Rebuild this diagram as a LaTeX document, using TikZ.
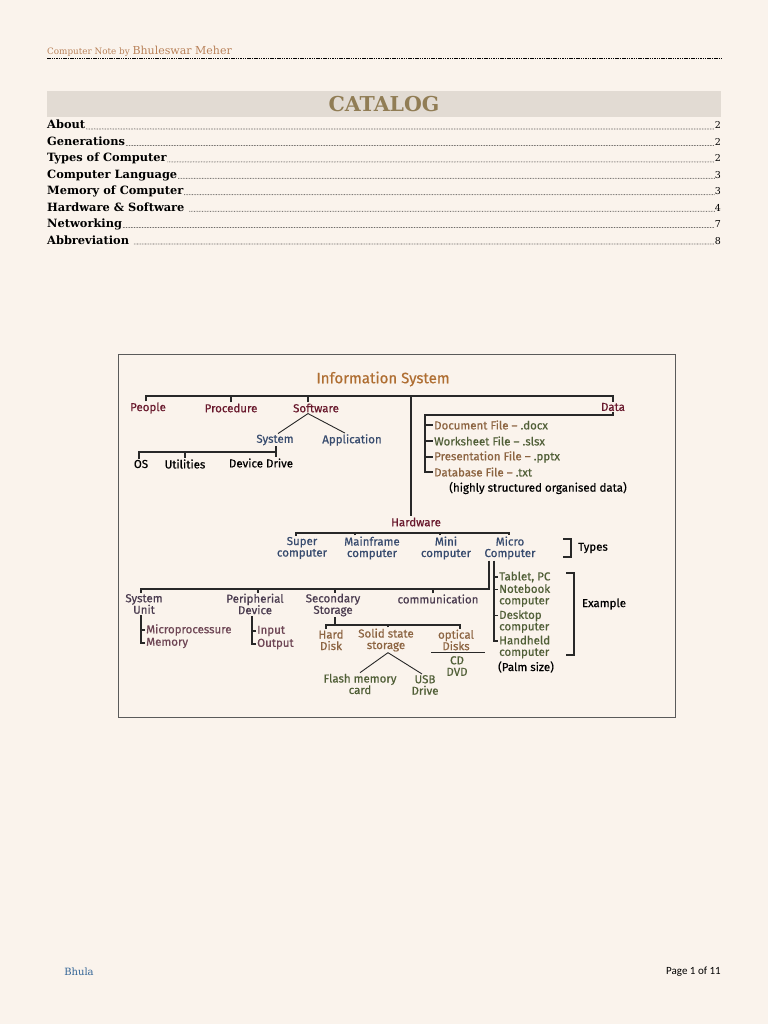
\documentclass[tikz,border=0pt]{standalone}
\usepackage{fontspec}
\setmainfont{DejaVu Serif}
\newfontfamily\handfont[FakeBold=0.6]{Fira Sans}
\newfontfamily\pagefont{Carlito}
\usetikzlibrary{positioning}
\definecolor{pagebg}{RGB}{250,243,236}
\definecolor{hdrgray}{RGB}{226,219,211}
\definecolor{catbrown}{RGB}{145,125,85}
\definecolor{notebrown}{RGB}{185,130,90}
\definecolor{footblue}{RGB}{50,100,150}
\definecolor{inkline}{RGB}{40,40,40}
\definecolor{frameline}{RGB}{90,90,90}
\definecolor{inkred}{RGB}{105,25,45}
\definecolor{inkorange}{RGB}{175,110,50}
\definecolor{inkblue}{RGB}{55,75,110}
\definecolor{inkbrown}{RGB}{140,100,65}
\definecolor{inkolive}{RGB}{80,95,55}
\definecolor{inkplum}{RGB}{75,60,80}
\definecolor{inkmauve}{RGB}{110,70,85}
\tikzset{
  hand/.style={font=\handfont\fontsize{11.5}{11.5}\selectfont,inner sep=1pt,align=center},
  redlbl/.style={hand,text=inkred},
  bluelbl/.style={hand,text=inkblue},
  brownlbl/.style={hand,text=inkbrown},
  olivelbl/.style={hand,text=inkolive},
  plumlbl/.style={hand,text=inkplum},
  mauvelbl/.style={hand,text=inkmauve,align=left},
  blacklbl/.style={hand,text=black},
  treeline/.style={draw=inkline,line width=1.1pt},
  tocitem/.style={font=\bfseries\fontsize{11.4}{13}\selectfont,inner sep=0pt,anchor=base west},
  tocnum/.style={font=\fontsize{9.5}{11}\selectfont,inner sep=0pt,anchor=base east},
  tocdots/.style={line width=0.75pt,dash pattern=on 0pt off 1.6pt,line cap=round}
}

\begin{document}
\begin{tikzpicture}[x=1pt,y=-1pt]
  % Page
  \fill[pagebg] (0,0) rectangle (768,1024);
  \useasboundingbox (0,0) rectangle (768,1024);

  % Running head
  \node[anchor=base west,inner sep=0pt,text=notebrown] (head) at (47,54.5)
    {\fontsize{8.8}{10}\selectfont Computer Note by \fontsize{11}{12}\selectfont Bhuleswar Meher};
  \draw[dash pattern=on 1.5pt off 0.8pt, line width=0.6pt] (47,58) -- (721,58);

  % Catalog banner
  \fill[hdrgray] (47,91) rectangle (721,117);
  \node[font=\bfseries\fontsize{20.5}{23}\selectfont, text=catbrown] (catalog) at (384,104.5) {CATALOG};

  % Table of contents
  \node[tocitem] (tabout) at (47,129) {About};
  \node[tocnum] (pabout) at (721,129) {2};
  \draw[tocdots] ([xshift=1]tabout.base east) -- (pabout.base west);
  \node[tocitem] (tgen) at (47,145.4) {Generations};
  \node[tocnum] (pgen) at (721,145.4) {2};
  \draw[tocdots] ([xshift=1]tgen.base east) -- (pgen.base west);
  \node[tocitem] (ttypes) at (47,161.9) {Types of Computer};
  \node[tocnum] (ptypes) at (721,161.9) {2};
  \draw[tocdots] ([xshift=1]ttypes.base east) -- (ptypes.base west);
  \node[tocitem] (tlang) at (47,178.3) {Computer Language};
  \node[tocnum] (plang) at (721,178.3) {3};
  \draw[tocdots] ([xshift=1]tlang.base east) -- (plang.base west);
  \node[tocitem] (tmem) at (47,194.7) {Memory of Computer};
  \node[tocnum] (pmem) at (721,194.7) {3};
  \draw[tocdots] ([xshift=1]tmem.base east) -- (pmem.base west);
  \node[tocitem] (thw) at (47,211.2) {Hardware \& Software};
  \node[tocnum] (phw) at (721,211.2) {4};
  \draw[tocdots] ([xshift=5]thw.base east) -- (phw.base west);
  \node[tocitem] (tnet) at (47,227.6) {Networking};
  \node[tocnum] (pnet) at (721,227.6) {7};
  \draw[tocdots] ([xshift=1]tnet.base east) -- (pnet.base west);
  \node[tocitem] (tabbr) at (47,244) {Abbreviation};
  \node[tocnum] (pabbr) at (721,244) {8};
  \draw[tocdots] ([xshift=5]tabbr.base east) -- (pabbr.base west);

  % Diagram frame
  \draw[frameline, line width=0.8pt] (118,354) rectangle (675,717);

  % Information System and its four parts
  \node[hand, text=inkorange, font=\handfont\fontsize{15}{17}\selectfont] (infosys) at (383,379) {Information System};
  \node[redlbl] (people) at (148,408) {People};
  \node[redlbl] (procedure) at (231,408) {Procedure};
  \node[redlbl] (software) at (316,408) {Software};
  \node[redlbl] (data) at (613,407) {Data};
  \node[redlbl] (hardware) at (416,522) {Hardware};
  \coordinate (topbus) at (0,396);
  \draw[treeline] ([xshift=-2]people.north) |- (topbus -| data.north) -- (data.north);
  \draw[treeline] (procedure.north) -- (procedure.north |- topbus);
  \draw[treeline] ([xshift=-8]software.north) -- ([xshift=-8]software.north |- topbus);
  \draw[treeline] ([xshift=-5]hardware.north |- topbus) -- ([xshift=-5]hardware.north);

  % Software
  \node[bluelbl] (system) at (275,440) {System};
  \node[bluelbl] (application) at (352,440) {Application};
  \draw[treeline, line width=0.9pt] ([xshift=-8]software.south) -- ([xshift=3]system.north);
  \draw[treeline, line width=0.9pt] ([xshift=-8]software.south) -- ([xshift=-7]application.north);
  \node[blacklbl] (os) at (141,464) {OS};
  \node[blacklbl] (utilities) at (185,464) {Utilities};
  \node[blacklbl] (devdrive) at (261,463) {Device Drive};
  \coordinate (sysbus) at (0,452);
  \draw[treeline] ([xshift=-2]os.north) |- ([xshift=1]system.south |- sysbus) -- ([xshift=1]system.south);
  \draw[treeline] (utilities.north) -- (utilities.north |- sysbus);
  \draw[treeline] ([xshift=1]system.south |- sysbus) -- ([xshift=15]devdrive.north);

  % Data
  \node[hand, anchor=west, text=inkbrown] (docfile) at (433,425) {Document File – \textcolor{inkolive}{.docx}};
  \node[hand, anchor=west, text=inkolive] (wsfile) at (433,441) {Worksheet File – .slsx};
  \node[hand, anchor=west, text=inkbrown] (ppfile) at (433,457) {Presentation File – \textcolor{inkolive}{.pptx}};
  \node[hand, anchor=west, text=inkbrown] (dbfile) at (433,472) {Database File – \textcolor{inkolive}{.txt}};
  \node[blacklbl] (dbnote) at (538,488) {(highly structured organised data)};
  \coordinate (filebar) at (425,415);
  \draw[treeline] (data.south) |- (filebar) |- (dbfile.west);
  \draw[treeline] (filebar |- docfile.west) -- (docfile.west);
  \draw[treeline] (filebar |- wsfile.west) -- (wsfile.west);
  \draw[treeline] (filebar |- ppfile.west) -- (ppfile.west);

  % Hardware types
  \node[bluelbl] (supercomp) at (302,548) {Super\\computer};
  \node[bluelbl] (mainframe) at (372,548) {Mainframe\\computer};
  \node[bluelbl] (minicomp) at (446,548) {Mini\\computer};
  \node[bluelbl] (microcomp) at (510,548) {Micro\\Computer};
  \coordinate (typebus) at (0,533);
  \draw[treeline] ([xshift=-6]supercomp.north) |- ([xshift=-1]microcomp.north |- typebus) -- ([xshift=-1]microcomp.north);
  \draw[treeline] ([xshift=-17]mainframe.north) -- ([xshift=-17]mainframe.north |- typebus);
  \draw[treeline] ([xshift=-6]minicomp.north) -- ([xshift=-6]minicomp.north |- typebus);
  \draw[treeline] (563,539) -- (571,539) -- (571,557) -- (563,557);
  \node[blacklbl] (types) at (593,548) {Types};

  % Micro computer examples
  \node[olivelbl, anchor=west, align=left] (tablet) at (498,577) {Tablet, PC};
  \node[olivelbl, anchor=west, align=left] (notebook) at (498,595.5) {Notebook\\computer};
  \node[olivelbl, anchor=west, align=left] (desktop) at (498,621.5) {Desktop\\computer};
  \node[olivelbl, anchor=west, align=left] (handheld) at (498,647) {Handheld\\computer};
  \node[blacklbl] (palmsize) at (526,667) {(Palm size)};
  \draw[treeline] ([xshift=-16]microcomp.south) |- ([yshift=6]handheld.west);
  \draw[treeline] ([xshift=-16]microcomp.south |- tablet.west) -- (tablet.west);
  \draw[treeline] ([xshift=-16]microcomp.south |- notebook.west) ++(0,-6) -- ([yshift=6]notebook.west);
  \draw[treeline] ([xshift=-16]microcomp.south |- desktop.west) ++(0,-6) -- ([yshift=6]desktop.west);
  \draw[treeline] (566,573) -- (574,573) -- (574,655) -- (566,655);
  \node[blacklbl] (example) at (604,604) {Example};

  % Hardware components
  \node[plumlbl] (sysunit) at (144,604) {System\\Unit};
  \node[plumlbl] (peripheral) at (255,604) {Peripherial\\Device};
  \node[plumlbl] (secondary) at (333,605) {Secondary\\Storage};
  \node[plumlbl] (commun) at (438,599) {communication};
  \coordinate (hwbus) at (0,589);
  \draw[treeline] ([xshift=-21]microcomp.south) |- ([xshift=-3]sysunit.north |- hwbus) -- ([xshift=-3]sysunit.north);
  \draw[treeline] ([xshift=3]peripheral.north) -- ([xshift=3]peripheral.north |- hwbus);
  \draw[treeline] ([xshift=2]secondary.north) -- ([xshift=2]secondary.north |- hwbus);
  \draw[treeline] ([xshift=-5]commun.north) -- ([xshift=-5]commun.north |- hwbus);

  % System unit and peripherals
  \node[mauvelbl, anchor=west] (microproc) at (145,630) {Microprocessure};
  \node[mauvelbl, anchor=west] (memory) at (145,643) {Memory};
  \draw[treeline] (memory.west) -| ([xshift=-3]sysunit.south);
  \draw[treeline] (microproc.west) -- ([xshift=-3]sysunit.south |- microproc.west);
  \node[mauvelbl, anchor=west] (inputdev) at (256,631) {Input};
  \node[mauvelbl, anchor=west] (outputdev) at (256,644) {Output};
  \draw[treeline] (outputdev.west) -| ([xshift=-3]peripheral.south);
  \draw[treeline] (inputdev.west) -- ([xshift=-3]peripheral.south |- inputdev.west);

  % Secondary storage
  \node[brownlbl] (harddisk) at (331,640) {Hard\\Disk};
  \node[brownlbl] (solidstate) at (386,640) {Solid state\\storage};
  \node[brownlbl] (optical) at (456,640) {optical\\Disks};
  \coordinate (ssbus) at (0,625);
  \draw[treeline] ([xshift=-5]harddisk.north) |- ([xshift=4]optical.north |- ssbus) -- ([xshift=4]optical.north);
  \draw[treeline] ([xshift=2]secondary.south) -- ([xshift=2]secondary.south |- ssbus);
  \draw[treeline] ([xshift=2]solidstate.north) -- ([xshift=2]solidstate.north |- ssbus);
  \draw[treeline] ([xshift=-25,yshift=-1]optical.south) -- ([xshift=29,yshift=-1]optical.south);
  \node[olivelbl] (cddvd) at (457,666) {CD\\DVD};
  \node[olivelbl] (flash) at (360,684) {Flash memory\\card};
  \node[olivelbl] (usb) at (425,685) {USB\\Drive};
  \draw[treeline, line width=0.9pt] ([xshift=2]solidstate.south) -- (flash.north);
  \draw[treeline, line width=0.9pt] ([xshift=2]solidstate.south) -- ([xshift=-3]usb.north);

  % Footer
  \node[text=footblue, font=\fontsize{10}{12}\selectfont] (foot) at (79,972) {Bhula};
  \node[font=\pagefont\fontsize{11}{13}\selectfont, anchor=east, inner sep=0pt] (pageno) at (721,972) {Page 1 of 11};
\end{tikzpicture}
\end{document}
